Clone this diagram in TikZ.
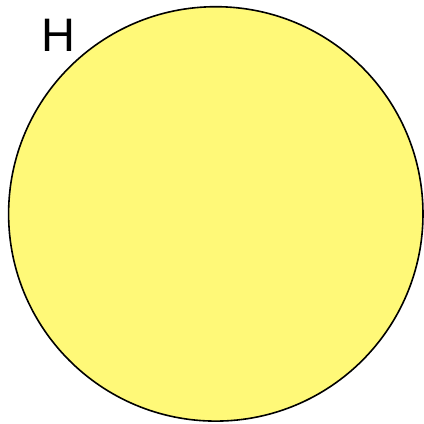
\documentclass[tikz,border=0pt]{standalone}
\usepackage{fontspec}
\setmainfont{Liberation Sans}
\usepackage{xcolor}
\definecolor{sunyellow}{RGB}{255,249,120}

\begin{document}
\begin{tikzpicture}[x=1pt, y=-1pt, every node/.style={font=\fontsize{47}{50}\selectfont}]
    % Frame
    \useasboundingbox (0, 0) rectangle (424, 424);

    % Disc
    \draw[fill=sunyellow, draw=black, line width=1.6pt] (215.8, 213.9) circle (207.2);

    % Label
    \node[inner sep=0pt, anchor=base] (hlabel) at (58, 51) {H};
\end{tikzpicture}
\end{document}
